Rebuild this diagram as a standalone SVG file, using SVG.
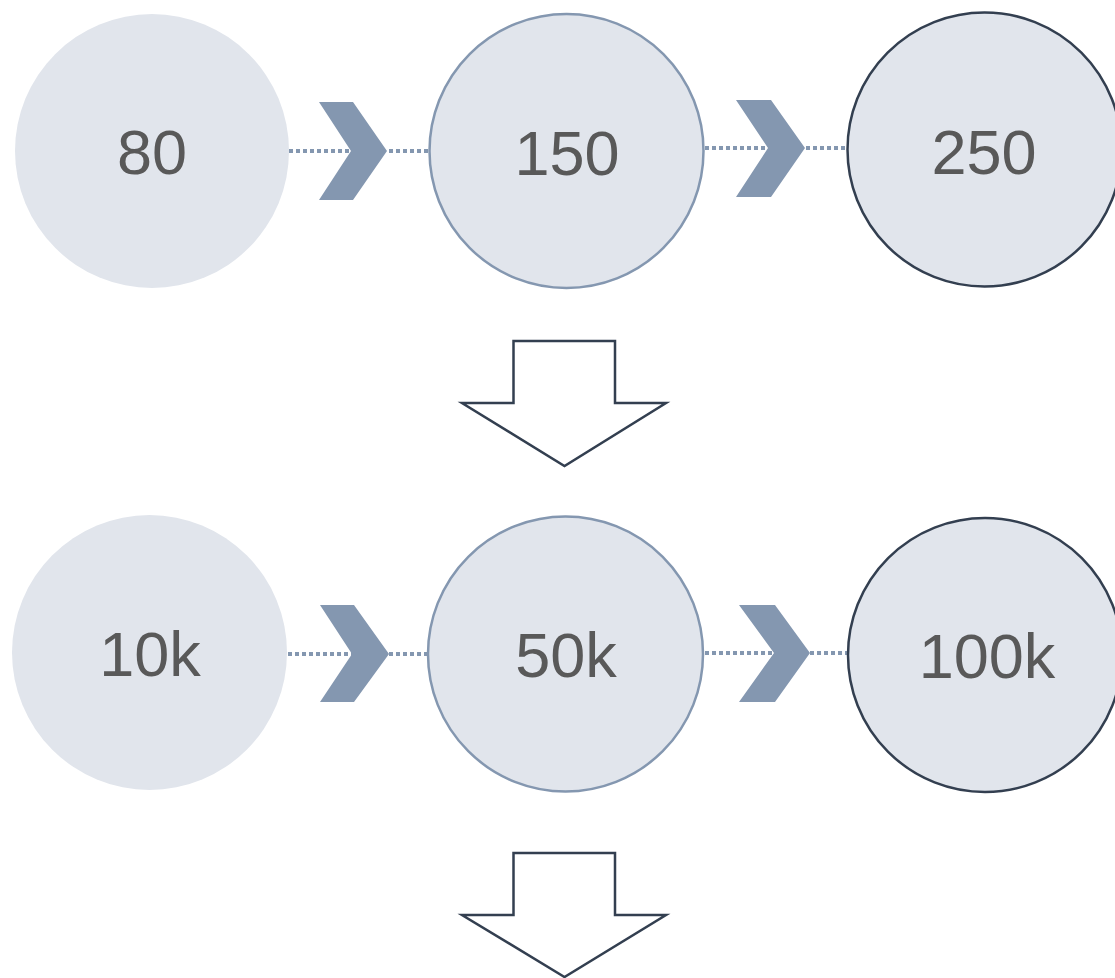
<svg xmlns="http://www.w3.org/2000/svg" width="1115" height="978" viewBox="0 0 1115 978">
<style>
.c{fill:#E1E5EC}
.c2{stroke:#8497B0;stroke-width:2.5}
.c3{stroke:#333F50;stroke-width:2.5}
.t{font-family:"Liberation Sans","Noto Sans",sans-serif;font-size:63px;fill:#595959;text-anchor:middle}
.dot{stroke:#8497B0;stroke-width:4;stroke-dasharray:4 3;fill:none}
.chev{fill:#8497B0}
.arr{fill:#fff;stroke:#333F50;stroke-width:2.5;stroke-linejoin:miter}
</style>
<rect width="1115" height="978" fill="#fff"/>
<g id="connectors">
<line class="dot" x1="289" y1="151" x2="352" y2="151"/>
<line class="dot" x1="389" y1="151" x2="429" y2="151"/>
<polygon class="chev" points="319,102 353,102 387,151 353,200 319,200 351,151"/>
<line class="dot" x1="705" y1="148" x2="769" y2="148"/>
<line class="dot" x1="806" y1="148" x2="847" y2="148"/>
<polygon class="chev" points="736,100 771,100 805,148 771,197 736,197 768,148"/>
<line class="dot" x1="288" y1="654" x2="352" y2="654"/>
<line class="dot" x1="389" y1="654" x2="428" y2="654"/>
<polygon class="chev" points="320,605 354,605 389,654 354,702 320,702 352,654"/>
<line class="dot" x1="705" y1="653" x2="774" y2="653"/>
<line class="dot" x1="810" y1="653" x2="848" y2="653"/>
<polygon class="chev" points="739,605 775,605 810,653 775,702 739,702 774,653"/>
<polygon class="arr" points="513.5,341 615,341 615,403 666,403 564.5,466 462,403 513.5,403"/>
<polygon class="arr" points="513.5,853 615,853 615,915 666,915 564.5,977 462,915 513.5,915"/>
</g>
<g id="n80"><circle class="c" cx="152" cy="151" r="137"/><text class="t" x="152" y="174">80</text></g>
<g id="n150"><circle class="c c2" cx="566.5" cy="151" r="137"/><text class="t" x="567" y="175">150</text></g>
<g id="n250"><circle class="c c3" cx="984.5" cy="149.5" r="137"/><text class="t" x="984" y="174">250</text></g>
<g id="n10k"><circle class="c" cx="149.5" cy="652.5" r="137.5"/><text class="t" x="150" y="676">10k</text></g>
<g id="n50k"><circle class="c c2" cx="565.5" cy="654" r="137.5"/><text class="t" x="566" y="677">50k</text></g>
<g id="n100k"><circle class="c c3" cx="985" cy="655" r="137"/><text class="t" x="987" y="678">100k</text></g>
</svg>
